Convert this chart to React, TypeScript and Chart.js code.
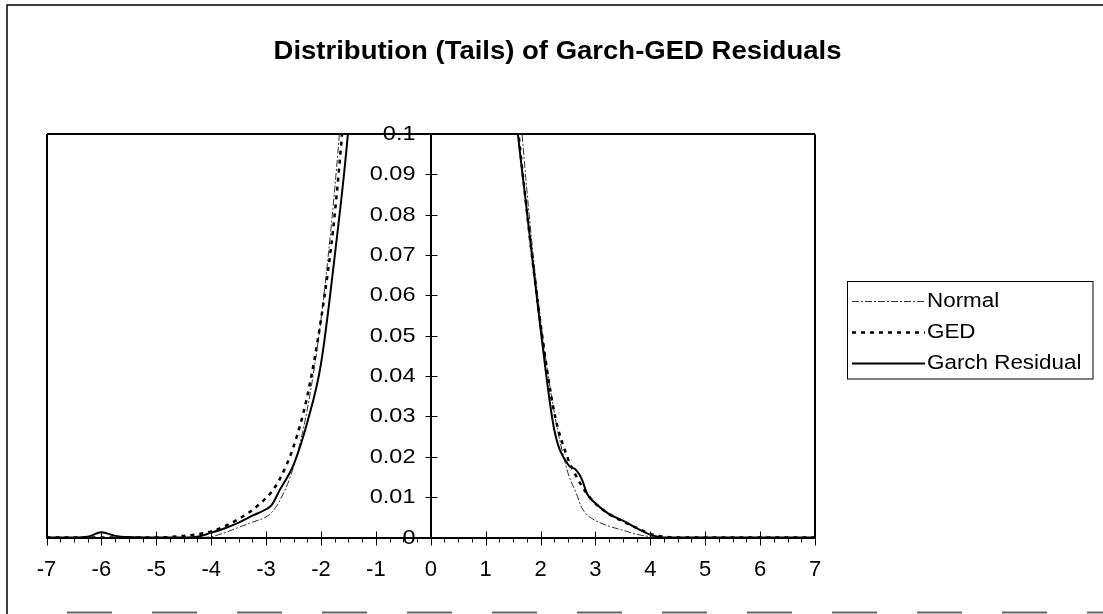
import { useEffect, useRef } from 'react';
import { Chart, registerables } from 'chart.js';

Chart.register(...registerables);

const titleText = 'Distribution (Tails) of Garch-GED Residuals';
const seriesLabels = ['Normal', 'GED', 'Garch Residual'];

const xValues = [
  -7, -6.5, -6.25, -6, -5.75, -5.5, -5, -4.5, -4.25, -4, -3.75, -3.5, -3.25, -3, -2.9, -2.75,
  -2.5, -2.25, -2, -1.75, -1.5, -1.25, -1, -0.5, 0, 0.5, 1, 1.25, 1.5, 1.75, 2, 2.25,
  2.5, 2.65, 2.75, 2.85, 3, 3.25, 3.5, 3.75, 4, 4.25, 4.5, 5, 5.5, 6, 6.5, 7,
];

const normalValues = [
  0, 0, 0, 0, 0, 0, 0, 0, 0, 0.0002, 0.0012, 0.0025, 0.0038, 0.0051, 0.0062, 0.0091,
  0.0175, 0.0317, 0.054, 0.0863, 0.1295, 0.1826, 0.242, 0.352, 0.399, 0.352, 0.242, 0.1826, 0.1295, 0.0863, 0.054, 0.031,
  0.016, 0.011, 0.0074, 0.0056, 0.0042, 0.0028, 0.0018, 0.0008, 0.0002, 0, 0, 0, 0, 0, 0, 0,
];

const gedValues = [
  0, 0, 0, 0, 0, 0, 0, 0.0004, 0.0008, 0.0015, 0.0028, 0.0046, 0.0068, 0.0098, 0.0113, 0.0145,
  0.0225, 0.035, 0.054, 0.08, 0.12, 0.17, 0.23, 0.37, 0.5, 0.37, 0.23, 0.165, 0.115, 0.081, 0.053, 0.031,
  0.0195, 0.0152, 0.0128, 0.0108, 0.0084, 0.0058, 0.004, 0.0024, 0.0009, 0.0002, 0, 0, 0, 0, 0, 0,
];

const garchValues = [
  0, 0, 0.0002, 0.0013, 0.0004, 0.0001, 0, 0, 0.0002, 0.0012, 0.0023, 0.0037, 0.0054, 0.007, 0.008, 0.0118,
  0.018, 0.0285, 0.043, 0.0697, 0.1015, 0.15, 0.22, 0.36, 0.42, 0.36, 0.22, 0.16, 0.112, 0.081, 0.0517, 0.0267,
  0.0181, 0.0167, 0.0145, 0.0108, 0.0085, 0.0058, 0.0042, 0.0023, 0.0007, 0, 0, 0, 0, 0, 0, 0,
];

const xMin = -7;
const xMax = 7;
const xMajorStep = 1;
const xMinorStep = 0.25;
const yMin = 0;
const yMax = 0.1;
const yStep = 0.01;

const FONT = '"Liberation Sans", Arial, Helvetica, sans-serif';

function stretchedText(
  ctx: CanvasRenderingContext2D,
  text: string,
  x: number,
  y: number,
  align: CanvasTextAlign,
  font: string,
  sx: number
) {
  ctx.save();
  ctx.font = font;
  ctx.textAlign = align;
  ctx.textBaseline = 'middle';
  ctx.fillStyle = '#000';
  ctx.translate(x, y);
  ctx.scale(sx, 1);
  ctx.fillText(text, 0, 0);
  ctx.restore();
}

const decorPlugin = {
  id: 'decor',
  afterDraw(chart: any) {
    const ctx: CanvasRenderingContext2D = chart.ctx;
    const ca = chart.chartArea;
    const xs = chart.scales.x;
    const ys = chart.scales.y;
    ctx.save();
    ctx.strokeStyle = '#000';
    ctx.fillStyle = '#000';

    // outer chart frame
    ctx.lineWidth = 1.5;
    ctx.beginPath();
    ctx.moveTo(7, 614);
    ctx.lineTo(7, 5);
    ctx.lineTo(1103, 5);
    ctx.stroke();
    ctx.save();
    ctx.strokeStyle = '#666';
    ctx.lineWidth = 2;
    ctx.setLineDash([45, 40]);
    ctx.beginPath();
    ctx.moveTo(67, 612.5);
    ctx.lineTo(1103, 612.5);
    ctx.stroke();
    ctx.restore();

    // x ticks (major cross, minor down)
    const yb = ca.bottom;
    ctx.lineWidth = 1;
    const nMinor = Math.round((xMax - xMin) / xMinorStep);
    for (let i = 0; i <= nMinor; i++) {
      const v = xMin + i * xMinorStep;
      const px = Math.round(xs.getPixelForValue(v)) + 0.5;
      const major = Math.abs(v / xMajorStep - Math.round(v / xMajorStep)) < 1e-9;
      ctx.beginPath();
      if (major) {
        ctx.moveTo(px, yb - 6);
        ctx.lineTo(px, yb + 8);
      } else {
        ctx.moveTo(px, yb);
        ctx.lineTo(px, yb + 5);
      }
      ctx.stroke();
    }

    // y axis at x = 0
    const x0 = Math.round(xs.getPixelForValue(0)) + 0.5;
    ctx.beginPath();
    ctx.moveTo(x0, ca.top);
    ctx.lineTo(x0, ca.bottom);
    ctx.stroke();
    const labelFont = `21px ${FONT}`;
    for (const t of ys.ticks) {
      const py = Math.round(ys.getPixelForValue(t.value)) + 0.5;
      ctx.beginPath();
      ctx.moveTo(x0 - 6, py);
      ctx.lineTo(x0 + 6, py);
      ctx.stroke();
      const label = String(Number(t.value.toFixed(2)));
      stretchedText(ctx, label, x0 - 16, py, 'right', labelFont, 1.12);
    }

    // title
    stretchedText(ctx, titleText, 557.5, 52, 'center', `bold 25px ${FONT}`, 1.1);

    // legend
    const lx = 847.5, ly = 281.5, lw = 245.5, lh = 97.5;
    ctx.lineWidth = 1;
    ctx.strokeStyle = '#000';
    ctx.strokeRect(lx, ly, lw, lh);
    const rows = [301, 332, 363];
    chart.data.datasets.forEach((ds: any, i: number) => {
      const ry = rows[i] + 0.5;
      ctx.save();
      ctx.strokeStyle = ds.borderColor;
      ctx.lineWidth = ds.borderWidth;
      ctx.setLineDash(ds.borderDash || []);
      ctx.beginPath();
      ctx.moveTo(852, ry);
      ctx.lineTo(925, ry);
      ctx.stroke();
      ctx.restore();
      stretchedText(ctx, ds.label, 927, rows[i], 'left', `20px ${FONT}`, 1.12);
    });

    ctx.restore();
  },
};

export default function App() {
  const ref = useRef<HTMLCanvasElement>(null);

  useEffect(() => {
    const canvas = ref.current;
    if (!canvas) return;
    const mk = (vals: number[]) => xValues.map((x, i) => ({ x, y: vals[i] }));
    const chart = new Chart(canvas, {
      type: 'line',
      data: {
        datasets: [
          {
            label: seriesLabels[0],
            data: mk(normalValues),
            borderColor: '#333',
            borderWidth: 1,
            borderDash: [7, 2, 2, 2],
            order: 2,
          },
          {
            label: seriesLabels[1],
            data: mk(gedValues),
            borderColor: '#000',
            borderWidth: 2.5,
            borderDash: [4, 5],
            order: 1,
          },
          {
            label: seriesLabels[2],
            data: mk(garchValues),
            borderColor: '#000',
            borderWidth: 2,
            order: 0,
          },
        ],
      } as any,
      options: {
        responsive: false,
        animation: false,
        events: [],
        elements: {
          point: { radius: 0 },
          line: { cubicInterpolationMode: 'monotone', fill: false },
        },
        layout: { padding: { left: 46.5, right: 288, top: 134, bottom: 26.5 } },
        plugins: {
          legend: { display: false },
          title: { display: false },
          tooltip: { enabled: false },
        },
        scales: {
          x: {
            type: 'linear',
            min: xMin,
            max: xMax,
            position: 'bottom',
            afterFit: (s: any) => {
              s.height = 50;
            },
            ticks: {
              stepSize: xMajorStep,
              color: '#000',
              font: { size: 22, family: FONT },
              padding: 19,
              maxRotation: 0,
              autoSkip: false,
              callback: (v: any) => String(v),
            },
            grid: {
              drawTicks: false,
              color: (c: any) => {
                const v = c.tick ? c.tick.value : NaN;
                return v === 0 || v === xMin || v === xMax ? '#000' : 'rgba(0,0,0,0)';
              },
              lineWidth: (c: any) => {
                const v = c.tick ? c.tick.value : NaN;
                return v === xMin || v === xMax ? 2 : 1;
              },
            },
            border: { display: true, color: '#000', width: 2 },
          },
          y: {
            type: 'linear',
            min: yMin,
            max: yMax,
            position: 'left',
            ticks: { display: false, stepSize: yStep },
            grid: {
              drawTicks: false,
              color: (c: any) =>
                c.tick && Math.abs(c.tick.value - yMax) < 1e-9 ? '#000' : 'rgba(0,0,0,0)',
              lineWidth: 2,
            },
            border: { display: false },
          },
        },
      } as any,
      plugins: [decorPlugin],
    });
    return () => chart.destroy();
  }, []);

  return (
    <div style={{ position: 'absolute', left: 0, top: 0, width: 1103, height: 614, background: '#fff' }}>
      <canvas ref={ref} width={1103} height={614} style={{ display: 'block' }} />
    </div>
  );
}
